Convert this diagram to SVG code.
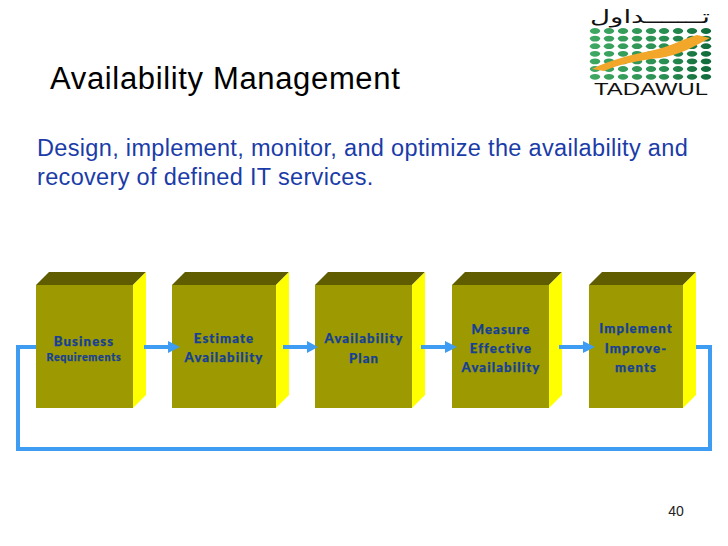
<svg xmlns="http://www.w3.org/2000/svg" width="728" height="546" viewBox="0 0 728 546">
<style>
.f{fill:#9c9a00}.t{fill:#5f5d00}.s{fill:#ffff00}
.c{fill:none;stroke:#3f9cf3;stroke-width:4}
.h{fill:#3f9cf3}
.l{font-family:"Lato","Liberation Sans",sans-serif;font-weight:900;font-size:13.2px;letter-spacing:1.1px;fill:#163f96;stroke:#163f96;stroke-width:.25;text-anchor:middle}
.d{font-family:"Liberation Sans",Arial,sans-serif;font-size:23.5px;letter-spacing:.33px;fill:#1a3ca8}
</style>
<defs>
<linearGradient id="g" gradientUnits="userSpaceOnUse" x1="590" y1="0" x2="712" y2="0"><stop offset="0" stop-color="#3fa862"/><stop offset=".6" stop-color="#2a8f52"/><stop offset="1" stop-color="#0f6a3a"/></linearGradient>
</defs>
<rect width="728" height="546" fill="#fff"/>
<text x="50" y="89" font-family="Liberation Sans,Arial,sans-serif" font-size="31px" letter-spacing=".65" fill="#000">Availability Management</text>
<text class="d" x="37" y="156">Design, implement, monitor, and optimize the availability and</text>
<text class="d" x="37" y="185">recovery of defined IT services.</text>
<g id="logo">
<text x="650" y="23" font-family="DejaVu Sans,sans-serif" font-size="18px" fill="#111" text-anchor="middle" direction="rtl" textLength="120" lengthAdjust="spacingAndGlyphs">تـــــــداول</text>
<g fill="url(#g)">
<g id="r"><ellipse cx="595" cy="31" rx="5.2" ry="2.9"/><ellipse cx="609" cy="31" rx="5.2" ry="2.9"/><ellipse cx="623" cy="31" rx="5.2" ry="2.9"/><ellipse cx="637" cy="31" rx="5.2" ry="2.9"/><ellipse cx="651" cy="31" rx="5.2" ry="2.9"/><ellipse cx="664" cy="31" rx="5.2" ry="2.9"/><ellipse cx="678" cy="31" rx="5.2" ry="2.9"/><ellipse cx="692" cy="31" rx="5.2" ry="2.9"/><ellipse cx="706" cy="31" rx="5.2" ry="2.9"/></g>
<use href="#r" y="7.6"/><use href="#r" y="15.2"/><use href="#r" y="22.8"/><use href="#r" y="30.4"/><use href="#r" y="38"/><use href="#r" y="45.8"/>
</g>
<path d="M592 69C610 60 630 55 650 51C670 47 685 38 697 35L710 38C695 46 680 55 660 58C640 60 620 64 604 71Z" fill="#f2a62a"/>
<text x="594" y="95" font-family="Liberation Sans,Arial,sans-serif" font-size="17px" fill="#111" textLength="114" lengthAdjust="spacingAndGlyphs">TADAWUL</text>
</g>
<g id="n1"><rect class="f" x="36" y="285" width="97" height="123"/><path class="t" d="M36 285L49 272H146L133 285Z"/><path class="s" d="M133 285L146 272V395L133 408Z"/>
<text class="l" x="84" y="346">Business</text><text class="l" x="84" y="361" style="font-size:10.7px;letter-spacing:.7px">Requirements</text></g>
<g id="n2"><rect class="f" x="172" y="285" width="104" height="123"/><path class="t" d="M172 285L185 272H289L276 285Z"/><path class="s" d="M276 285L289 272V395L276 408Z"/>
<text class="l" x="224" y="343">Estimate</text><text class="l" x="224" y="362">Availability</text></g>
<g id="n3"><rect class="f" x="315" y="285" width="97" height="123"/><path class="t" d="M315 285L328 272H425L412 285Z"/><path class="s" d="M412 285L425 272V395L412 408Z"/>
<text class="l" x="364" y="343">Availability</text><text class="l" x="364" y="363">Plan</text></g>
<g id="n4"><rect class="f" x="452" y="285" width="97" height="123"/><path class="t" d="M452 285L465 272H562L549 285Z"/><path class="s" d="M549 285L562 272V395L549 408Z"/>
<text class="l" x="501" y="334">Measure</text><text class="l" x="501" y="353">Effective</text><text class="l" x="501" y="372">Availability</text></g>
<g id="n5"><rect class="f" x="589" y="285" width="94" height="123"/><path class="t" d="M589 285L602 272H696L683 285Z"/><path class="s" d="M683 285L696 272V395L683 408Z"/>
<text class="l" x="636" y="333">Implement</text><text class="l" x="636" y="353">Improve-</text><text class="l" x="636" y="372">ments</text></g>
<g id="connectors">
<path class="c" d="M36 347H18V449H710V347H696"/>
<path class="c" d="M144 347H170"/><path class="h" d="M168 341L180 347L168 353Z"/>
<path class="c" d="M283 347H308"/><path class="h" d="M307 341L318 347L307 353Z"/>
<path class="c" d="M421 347H446"/><path class="h" d="M445 341L457 347L445 353Z"/>
<path class="c" d="M559 347H585"/><path class="h" d="M583 341L595 347L583 353Z"/>
</g>
<text x="676" y="516" font-family="Liberation Sans,Arial,sans-serif" font-size="14px" fill="#222" text-anchor="middle">40</text>
</svg>
